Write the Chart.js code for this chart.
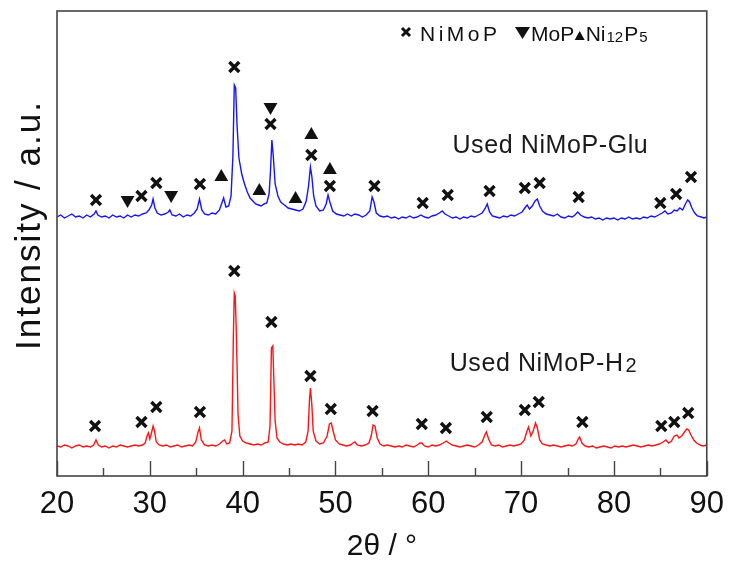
<!DOCTYPE html>
<html>
<head>
<meta charset="utf-8">
<script src="https://cdn.jsdelivr.net/npm/chart.js@4.4.1/dist/chart.umd.min.js"></script>
<style>
html,body{margin:0;padding:0;background:#fff;}
canvas{display:block;}
</style>
</head>
<body>
<canvas id="c" width="734" height="565"></canvas>
<script>
// ---- Data (2θ in degrees, intensity in arbitrary units) ----
const gluTheta = [20.0,20.4,20.8,21.2,21.6,22.0,22.4,22.8,23.2,23.6,24.0,24.2,24.4,24.8,25.2,25.6,26.0,26.4,26.8,27.2,27.6,28.0,28.4,28.8,29.2,29.6,29.9,30.2,30.35,30.55,30.8,31.2,31.6,32.0,32.15,32.4,32.8,33.2,33.6,34.0,34.4,34.8,35.1,35.35,35.6,35.9,36.3,36.7,37.1,37.5,37.8,37.95,38.2,38.5,38.75,38.95,39.1,39.25,39.4,39.6,39.9,40.2,40.5,40.8,41.1,41.4,41.7,42.0,42.3,42.6,42.85,43.0,43.15,43.3,43.5,43.8,44.1,44.5,44.9,45.3,45.7,46.1,46.5,46.85,47.1,47.3,47.45,47.65,47.9,48.3,48.7,49.0,49.2,49.4,49.7,50.1,50.5,50.9,51.3,51.7,52.1,52.5,52.9,53.3,53.7,53.95,54.15,54.4,54.8,55.2,55.6,56.0,56.4,56.8,57.2,57.6,58.0,58.4,58.8,59.2,59.6,60.0,60.4,60.8,61.2,61.5,61.8,62.2,62.6,63.0,63.4,63.8,64.2,64.6,65.0,65.4,65.8,66.1,66.35,66.6,66.9,67.3,67.7,68.1,68.5,68.9,69.3,69.7,70.1,70.4,70.65,70.9,71.2,71.5,71.75,72.0,72.3,72.7,73.1,73.5,73.9,74.3,74.7,75.1,75.5,75.8,76.1,76.4,76.8,77.2,77.6,78.0,78.4,78.8,79.2,79.6,80.0,80.4,80.8,81.2,81.6,82.0,82.4,82.8,83.2,83.6,84.0,84.4,84.8,85.2,85.5,85.8,86.2,86.5,86.8,87.1,87.4,87.7,87.95,88.15,88.4,88.7,89.0,89.4,89.7,90.0];
const gluIntensity = [259,261,258,260,262,259,260,258,261,259,262,265,261,259,260,258,261,259,260,258,261,259,261,260,262,263,266,271,277,268,263,261,262,264,266,261,260,262,259,261,260,263,267,277,266,262,261,263,262,266,274,278,269,270,280,320,391,388,350,318,302,292,284,278,275,272,271,270,272,273,282,305,336,320,292,280,274,271,268,267,266,265,267,275,290,309,300,280,270,265,266,272,281,274,265,262,261,260,262,260,262,261,259,261,265,279,274,263,260,259,260,258,259,257,259,258,260,258,259,261,259,258,260,261,263,265,262,260,258,259,257,259,258,260,259,261,263,267,272,264,260,259,258,260,259,261,260,262,264,268,271,267,270,275,277,270,265,262,261,260,262,259,258,260,259,261,264,261,259,258,259,257,258,256,258,257,258,256,258,257,259,257,258,257,259,258,260,259,261,263,265,262,263,266,265,268,266,272,276,274,268,263,260,259,258,259];

const h2Theta = [20.0,20.4,20.8,21.2,21.6,22.0,22.4,22.8,23.2,23.6,23.95,24.2,24.45,24.8,25.2,25.6,26.0,26.4,26.8,27.2,27.6,28.0,28.4,28.8,29.2,29.5,29.7,29.85,30.0,30.15,30.35,30.5,30.7,31.0,31.4,31.8,32.2,32.6,33.0,33.4,33.8,34.2,34.6,34.95,35.2,35.35,35.55,35.9,36.3,36.7,37.1,37.5,37.85,38.05,38.3,38.6,38.85,39.0,39.1,39.2,39.3,39.4,39.5,39.7,40.0,40.4,40.8,41.2,41.6,42.0,42.4,42.75,42.95,43.1,43.25,43.35,43.5,43.7,44.0,44.4,44.8,45.2,45.6,46.0,46.4,46.8,47.05,47.2,47.3,47.45,47.6,47.9,48.3,48.7,49.1,49.35,49.55,49.75,50.0,50.4,50.8,51.2,51.6,51.9,52.1,52.35,52.8,53.2,53.6,53.85,54.05,54.25,54.5,54.8,55.2,55.6,56.0,56.4,56.8,57.2,57.6,58.0,58.4,58.8,59.1,59.3,59.6,60.0,60.4,60.8,61.2,61.6,61.95,62.2,62.6,63.0,63.4,63.8,64.2,64.6,65.0,65.4,65.8,66.05,66.25,66.5,66.8,67.2,67.6,68.0,68.4,68.8,69.2,69.6,70.0,70.35,70.6,70.8,71.05,71.3,71.55,71.75,72.0,72.3,72.7,73.1,73.5,73.9,74.3,74.7,75.1,75.5,75.9,76.15,76.3,76.55,76.9,77.3,77.7,78.1,78.5,78.9,79.3,79.7,80.1,80.5,80.9,81.3,81.7,82.1,82.5,82.9,83.3,83.7,84.1,84.5,84.9,85.3,85.6,85.9,86.2,86.5,86.8,87.0,87.3,87.6,87.85,88.05,88.3,88.6,88.9,89.3,89.6,90.0];
const h2Intensity = [30,29,31,30,28,30,31,29,30,29,31,36,31,29,30,28,30,29,31,30,29,30,31,30,31,33,40,43,37,42,50,45,34,31,30,31,29,30,31,29,30,31,30,34,44,48,36,31,30,31,30,32,35,36,32,33,45,140,183,180,150,110,62,40,35,33,32,31,32,31,33,34,50,128,130,100,55,38,34,32,31,32,31,32,31,34,45,76,88,72,45,35,32,33,40,52,53,45,36,32,31,30,31,33,34,31,30,31,33,40,51,50,38,32,30,31,30,29,30,29,31,30,29,31,33,33,30,29,31,30,31,33,35,33,31,30,29,30,31,30,29,31,34,40,44,37,31,30,31,29,30,31,30,31,32,36,44,49,40,45,53,48,36,32,31,30,31,30,29,30,31,30,32,37,39,33,30,29,30,28,29,30,29,28,30,29,30,29,30,31,30,29,30,31,30,31,32,34,36,33,35,40,41,38,40,44,47,46,41,36,33,31,30,31];

// Phase marker positions (2θ, marker height)
const gluNiMoPTheta = [24.2,29.1,30.7,35.4,39.1,43.0,47.4,49.4,54.2,59.4,62.1,66.6,70.4,72.0,76.2,85.0,86.7,88.3];
const gluNiMoPHeight = [276,280,293,292,409,352,321,290,290,273,281,285,288,293,279,273,282,299];
const gluMoPTheta = [27.6,32.3,43.0];
const gluMoPHeight = [276,281,369];
const gluNi12P5Theta = [37.7,41.8,45.7,47.4,49.4];
const gluNi12P5Height = [299,285,277,341,306];

const h2NiMoPTheta = [24.1,29.1,30.7,35.4,39.1,43.1,47.3,49.5,54.0,59.3,61.9,66.3,70.4,71.9,76.6,85.1,86.5,88.0];
const h2NiMoPHeight = [50,54,69,64,205,154,100,67,65,52,48,59,66,74,54,50,54,63];

// Axis ticks and texts
const majorTicks = [20,30,40,50,60,70,80,90];
const minorTicks = [25,35,45,55,65,75,85];
const xTitle = '2θ / °';
const yTitle = 'Intensity / a.u.';
const sampleLabels = [
  {parts:[['Used NiMoP-Glu',0]], theta:62.6, height:323},
  {parts:[['Used NiMoP-H',0],['2',1]], theta:62.3, height:105}
];

const FONT = '"Liberation Sans", Arial, sans-serif';
const toPts = (xs, ys) => xs.map((x, i) => ({x, y: ys[i]}));

const annotate = {
  id: 'annotate',
  afterDraw(chart) {
    const {ctx, chartArea: a, scales: {x, y}} = chart;
    ctx.save();
    // frame
    ctx.strokeStyle = '#444';
    ctx.lineWidth = 1.6;
    ctx.strokeRect(a.left, a.top, a.right - a.left, a.bottom - a.top);
    // inward ticks
    ctx.lineWidth = 1.4;
    ctx.beginPath();
    majorTicks.forEach(v => { const px = Math.round(x.getPixelForValue(v)) + 0.5; ctx.moveTo(px, a.bottom); ctx.lineTo(px, a.bottom - 15); });
    minorTicks.forEach(v => { const px = Math.round(x.getPixelForValue(v)) + 0.5; ctx.moveTo(px, a.bottom); ctx.lineTo(px, a.bottom - 8); });
    ctx.stroke();

    // y title
    ctx.fillStyle = '#111';
    ctx.font = '35px ' + FONT;
    ctx.letterSpacing = '2px';
    ctx.textAlign = 'center';
    ctx.textBaseline = 'alphabetic';
    ctx.translate(40, 225);
    ctx.rotate(-Math.PI / 2);
    ctx.fillText(yTitle, 0, 0);
    ctx.setTransform(1, 0, 0, 1, 0, 0);
    ctx.letterSpacing = '0px';

    // sample labels
    ctx.textAlign = 'left';
    sampleLabels.forEach(l => {
      let px = x.getPixelForValue(l.theta);
      const py = y.getPixelForValue(l.height);
      l.parts.forEach(([t, sub]) => {
        ctx.font = (sub ? '20px ' : '25px ') + FONT;
        ctx.letterSpacing = sub ? '0px' : '0.6px';
        ctx.fillStyle = '#1a1a1a';
        ctx.fillText(t, px, py + (sub ? 1 : 0));
        px += ctx.measureText(t).width + (sub ? 0 : 2);
      });
    });
    ctx.letterSpacing = '0px';

    // legend (laid out left to right)
    ctx.fillStyle = '#111';
    ctx.strokeStyle = '#111';
    const ly = 41;
    ctx.lineWidth = 3;
    ctx.beginPath();
    ctx.moveTo(402, 28); ctx.lineTo(410, 36);
    ctx.moveTo(410, 28); ctx.lineTo(402, 36);
    ctx.stroke();
    const big = '21px ' + FONT, small = '15px ' + FONT;
    ctx.font = big;
    ctx.letterSpacing = '3.5px';
    ctx.fillText('NiMoP', 420, ly);
    ctx.letterSpacing = '0px';
    ctx.beginPath();
    ctx.moveTo(515, 27); ctx.lineTo(530, 27); ctx.lineTo(522.5, 39); ctx.closePath(); ctx.fill();
    ctx.fillText('MoP', 531, ly);
    let px = 531 + ctx.measureText('MoP').width + 0.5;
    ctx.beginPath();
    ctx.moveTo(px, 40); ctx.lineTo(px + 10, 40); ctx.lineTo(px + 5, 31); ctx.closePath(); ctx.fill();
    px += 11;
    ctx.fillText('Ni', px, ly); px += ctx.measureText('Ni').width + 1;
    ctx.font = small;
    ctx.fillText('12', px, ly + 1); px += ctx.measureText('12').width + 1;
    ctx.font = big;
    ctx.fillText('P', px, ly); px += ctx.measureText('P').width + 1;
    ctx.font = small;
    ctx.fillText('5', px, ly + 1);
    ctx.restore();
  }
};

const markerBase = {type: 'scatter', showLine: false, backgroundColor: '#111', borderColor: '#111', order: 0};

new Chart(document.getElementById('c'), {
  type: 'scatter',
  data: {
    datasets: [
      {type: 'line', label: 'Used NiMoP-Glu', data: toPts(gluTheta, gluIntensity), borderColor: '#1414ff', borderWidth: 1.4, pointRadius: 0, tension: 0, order: 2},
      {type: 'line', label: 'Used NiMoP-H2', data: toPts(h2Theta, h2Intensity), borderColor: '#ff1414', borderWidth: 1.4, pointRadius: 0, tension: 0, order: 2},
      {...markerBase, label: 'NiMoP', data: toPts(gluNiMoPTheta, gluNiMoPHeight), pointStyle: 'crossRot', pointRadius: 7, borderWidth: 3.4},
      {...markerBase, label: 'NiMoP', data: toPts(h2NiMoPTheta, h2NiMoPHeight), pointStyle: 'crossRot', pointRadius: 7, borderWidth: 3.4},
      {...markerBase, label: 'MoP', data: toPts(gluMoPTheta, gluMoPHeight), pointStyle: 'triangle', rotation: 180, pointRadius: 8, borderWidth: 0},
      {...markerBase, label: 'Ni12P5', data: toPts(gluNi12P5Theta, gluNi12P5Height), pointStyle: 'triangle', pointRadius: 8, borderWidth: 0}
    ]
  },
  options: {
    responsive: false,
    animation: false,
    layout: {padding: {top: 11, right: 23, left: 0, bottom: 0}},
    plugins: {legend: {display: false}, tooltip: {enabled: false}},
    scales: {
      x: {
        type: 'linear', min: 20, max: 90,
        ticks: {stepSize: 10, maxRotation: 0, autoSkip: false, padding: 10, color: '#111', font: {size: 31, family: FONT}},
        grid: {display: false, drawTicks: false},
        border: {display: false},
        title: {display: true, text: xTitle, color: '#111', font: {size: 30, family: FONT}, padding: {top: 0, bottom: 0}},
        afterFit: s => { s.height = 89; }
      },
      y: {
        min: 0, max: 465,
        ticks: {display: false},
        grid: {display: false, drawTicks: false},
        border: {display: false},
        afterFit: s => { s.width = 57; }
      }
    }
  },
  plugins: [annotate]
});
</script>
</body>
</html>
